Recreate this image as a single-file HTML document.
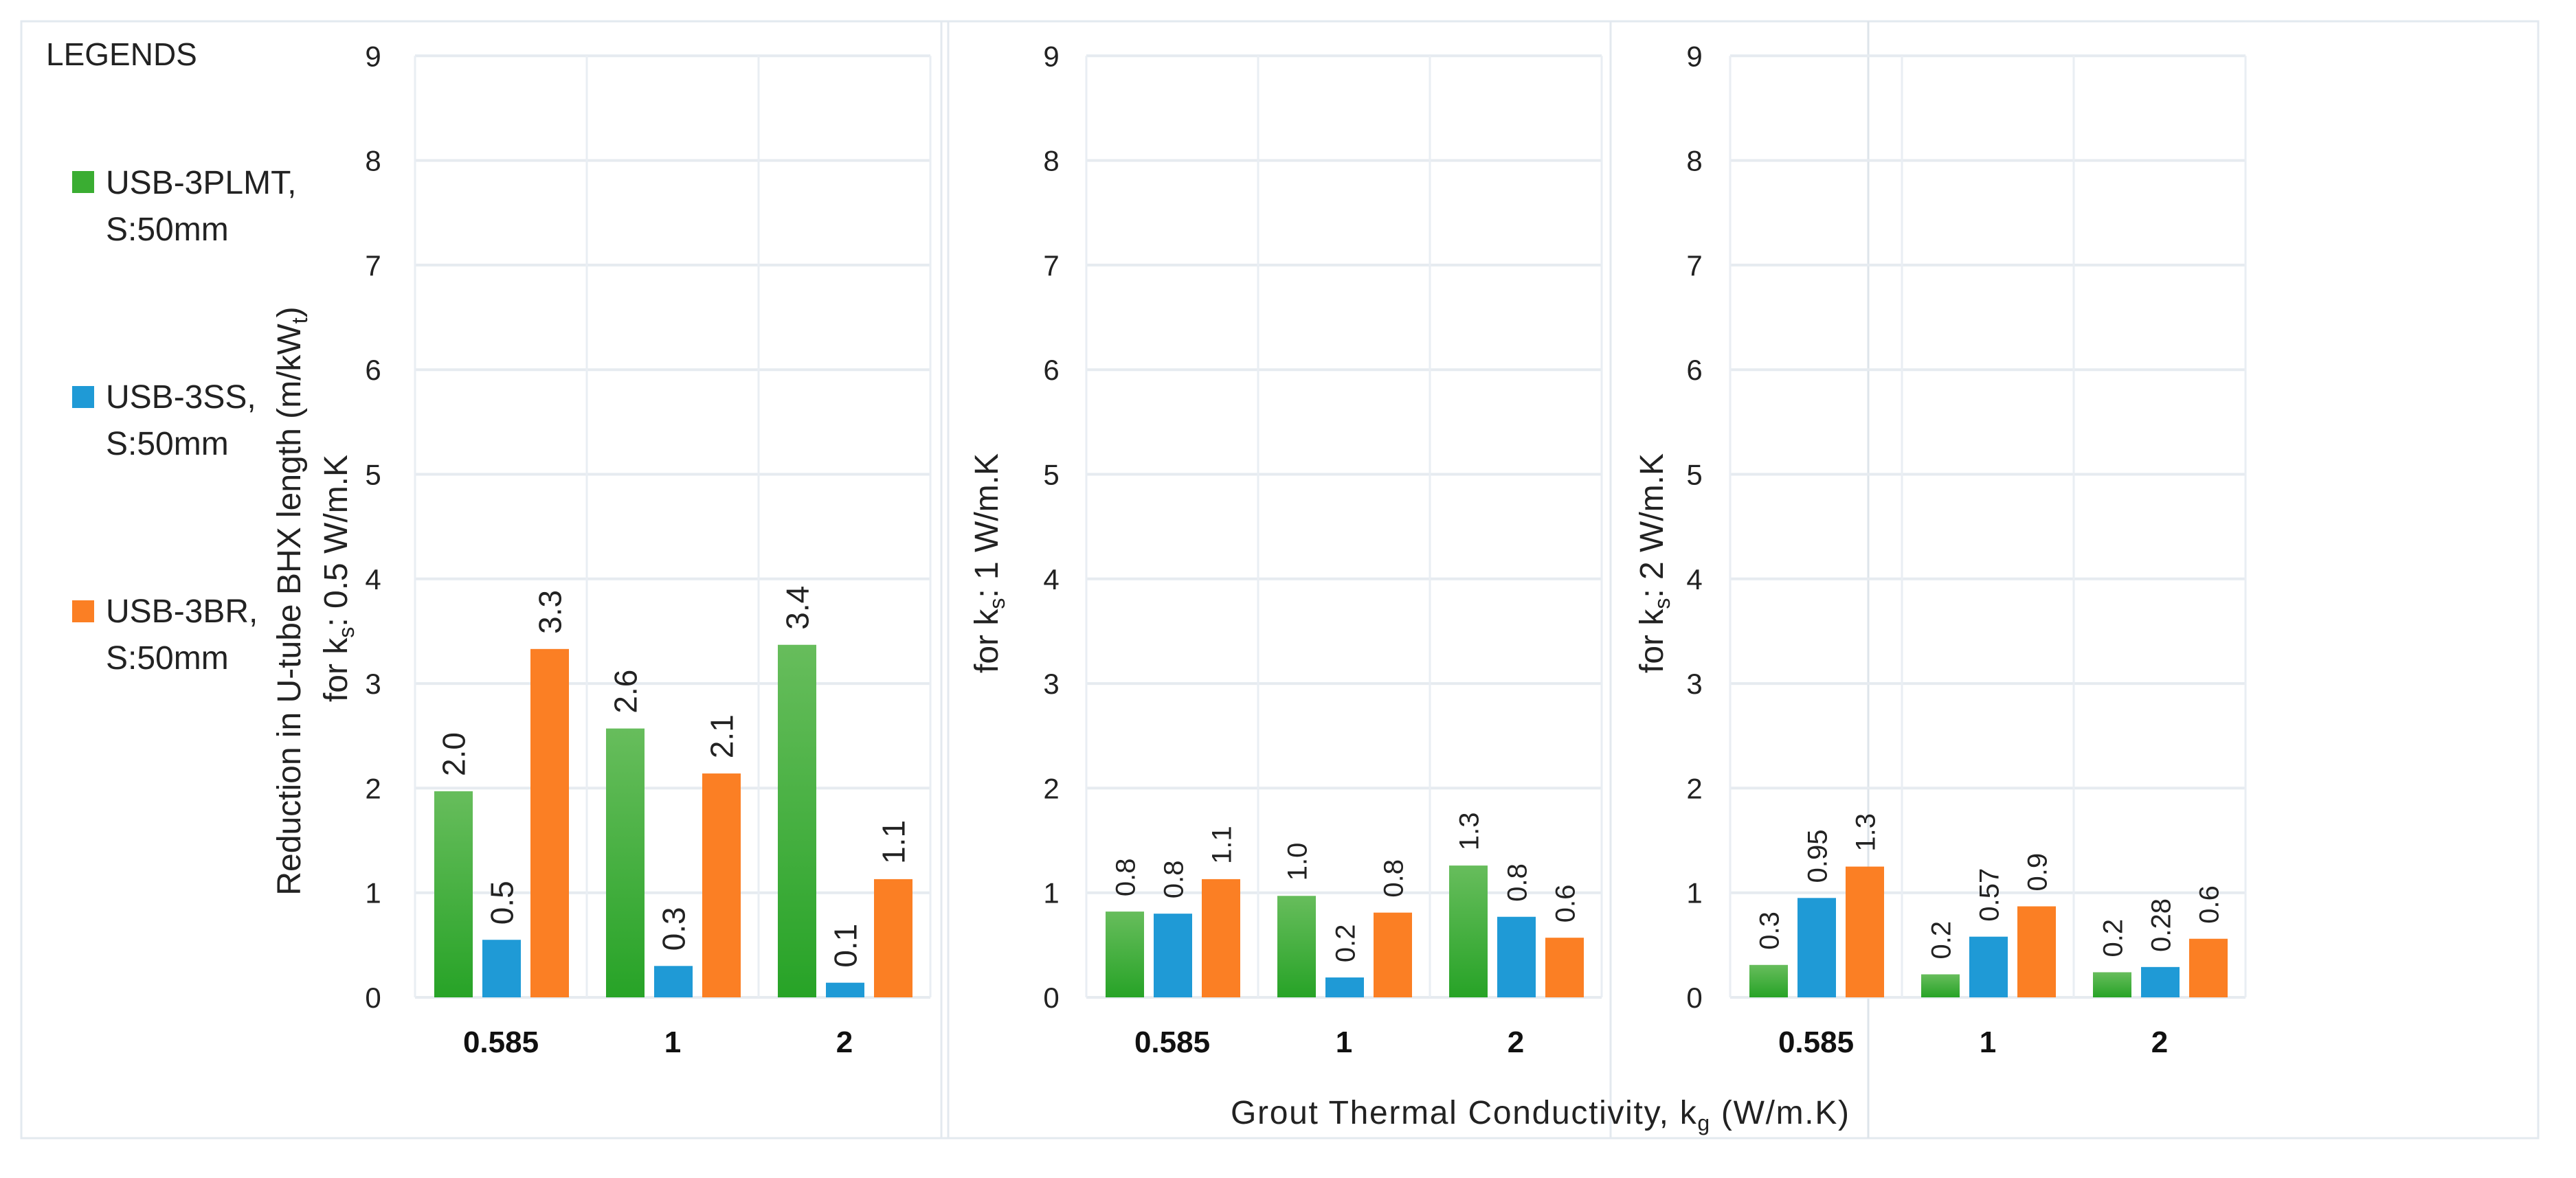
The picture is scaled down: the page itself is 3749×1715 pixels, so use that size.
<!DOCTYPE html>
<html><head><meta charset="utf-8"><style>
html,body{margin:0;padding:0;background:#fff;}
svg{display:block;font-family:"Liberation Sans",sans-serif;}
</style></head><body>
<svg id="chart" width="3749" height="1715" viewBox="0 0 3749 1715" xmlns="http://www.w3.org/2000/svg">
<defs>
<linearGradient id="gg" x1="0" y1="0" x2="0" y2="1"><stop offset="0" stop-color="#67bd5c"/><stop offset="1" stop-color="#27a327"/></linearGradient>
</defs>
<rect x="31" y="31" width="3663" height="1626" fill="none" stroke="#e3e9ef" stroke-width="3"/>
<line x1="1370" y1="31" x2="1370" y2="1657" stroke="#e3e9ef" stroke-width="3"/>
<line x1="1380" y1="31" x2="1380" y2="1657" stroke="#e3e9ef" stroke-width="3"/>
<line x1="2344" y1="31" x2="2344" y2="1657" stroke="#e3e9ef" stroke-width="3"/>
<line x1="2719" y1="31" x2="2719" y2="1657" stroke="#dde4ea" stroke-width="3"/>
<g>
<text x="67" y="95" font-size="46" fill="#222">LEGENDS</text>
<g><rect x="105" y="249" width="32" height="32" fill="#3aad32"/><text x="154" y="282" font-size="48" fill="#222">USB-3PLMT,</text><text x="154" y="350" font-size="48" fill="#222">S:50mm</text></g>
<g><rect x="105" y="562" width="32" height="32" fill="#1f9ad6"/><text x="154" y="594" font-size="48" fill="#222">USB-3SS,</text><text x="154" y="662" font-size="48" fill="#222">S:50mm</text></g>
<g><rect x="105" y="874" width="32" height="32" fill="#fb7f24"/><text x="154" y="906" font-size="48" fill="#222">USB-3BR,</text><text x="154" y="974" font-size="48" fill="#222">S:50mm</text></g>
</g>
<text transform="translate(437,875) rotate(-90)" text-anchor="middle" font-size="48" fill="#222">Reduction in U-tube BHX length (m/kW<tspan font-size="32" dy="10">t</tspan><tspan dy="-10">)</tspan></text>
<text transform="translate(505,842) rotate(-90)" text-anchor="middle" font-size="48" fill="#222">for k<tspan font-size="32" dy="10">s</tspan><tspan dy="-10">: 0.5 W/m.K</tspan></text>
<text transform="translate(1452,820) rotate(-90)" text-anchor="middle" font-size="48" fill="#222">for k<tspan font-size="32" dy="10">s</tspan><tspan dy="-10">: 1 W/m.K</tspan></text>
<text transform="translate(2420,820) rotate(-90)" text-anchor="middle" font-size="48" fill="#222">for k<tspan font-size="32" dy="10">s</tspan><tspan dy="-10">: 2 W/m.K</tspan></text>
<text x="2241" y="1636" text-anchor="middle" font-size="48" fill="#222" textLength="900">Grout Thermal Conductivity,  k<tspan font-size="32" dy="10">g</tspan><tspan dy="-10"> (W/m.K)</tspan></text>
<g id="panels"></g>
</svg>
<script>
const categories = ["0.585", "1", "2"];
const yTicks = [0,1,2,3,4,5,6,7,8,9];
const seriesNames = ["USB-3PLMT", "USB-3SS", "USB-3BR"];
const p1Green = [1.97, 2.57, 3.37];
const p1Blue = [0.55, 0.30, 0.14];
const p1Orange = [3.33, 2.14, 1.13];
const p1Labels = [["2.0","0.5","3.3"],["2.6","0.3","2.1"],["3.4","0.1","1.1"]];
const p2Green = [0.82, 0.97, 1.26];
const p2Blue = [0.80, 0.19, 0.77];
const p2Orange = [1.13, 0.81, 0.57];
const p2Labels = [["0.8","0.8","1.1"],["1.0","0.2","0.8"],["1.3","0.8","0.6"]];
const p3Green = [0.31, 0.22, 0.24];
const p3Blue = [0.95, 0.58, 0.29];
const p3Orange = [1.25, 0.87, 0.56];
const p3Labels = [["0.3","0.95","1.3"],["0.2","0.57","0.9"],["0.2","0.28","0.6"]];

const NS = "http://www.w3.org/2000/svg";
const root = document.getElementById('panels');
const fills = ["url(#gg)", "#1f9ad6", "#fb7f24"];
function mk(tag, attrs, parent){ const e=document.createElementNS(NS,tag); for(const k in attrs) e.setAttribute(k,attrs[k]); parent.appendChild(e); return e; }
const y0 = 1452, unit = 152.3, yMax = 9;
function yScale(v){ return y0 - v*unit; }
function drawPanel(idx, left, tickX, series, labels, labelSize){
  const width = 750, cw = width/categories.length;
  const g = mk('g', {}, root);
  
  
  yTicks.forEach(t => {
    const l = mk('line', {x1:left, x2:left+width, y1:yScale(t), y2:yScale(t), stroke:'#e6ebf0', 'stroke-width':4}, g);
    
    
    const tx = mk('text', {x:tickX, y:yScale(t)+15, 'text-anchor':'middle', 'font-size':42, fill:'#222'}, g);
    tx.textContent = t;
    
    
  });
  for(let c=0;c<=categories.length;c++){
    const l = mk('line', {x1:left+c*cw, x2:left+c*cw, y1:yScale(yMax), y2:y0, stroke:'#e9eef3', 'stroke-width':3}, g);
    
    
  }
  categories.forEach((cat, ci) => {
    const cx = left + ci*cw;
    series.forEach((vals, si) => {
      const v = vals[ci];
      const bx = cx + 28 + si*70, bw = 56;
      const r = mk('rect', {x:bx, y:yScale(v), width:bw, height:y0-yScale(v), fill:fills[si]}, g);
      
      
      const ly = yScale(v) - 22;
      const tx = mk('text', {transform:'translate('+(bx+bw/2+labelSize*0.36)+','+ly+') rotate(-90)', 'font-size':labelSize, fill:'#222'}, g);
      tx.textContent = labels[ci][si];
      
      
    });
    const cl = mk('text', {x:cx+cw/2, y:1532, 'text-anchor':'middle', 'font-size':44, 'font-weight':'bold', fill:'#111'}, g);
    cl.textContent = cat;
    
    
  });
}
drawPanel(0, 604, 543, [p1Green, p1Blue, p1Orange], p1Labels, 46);
drawPanel(1, 1581, 1530, [p2Green, p2Blue, p2Orange], p2Labels, 40);
drawPanel(2, 2518, 2466, [p3Green, p3Blue, p3Orange], p3Labels, 40);
</script>
</body></html>
